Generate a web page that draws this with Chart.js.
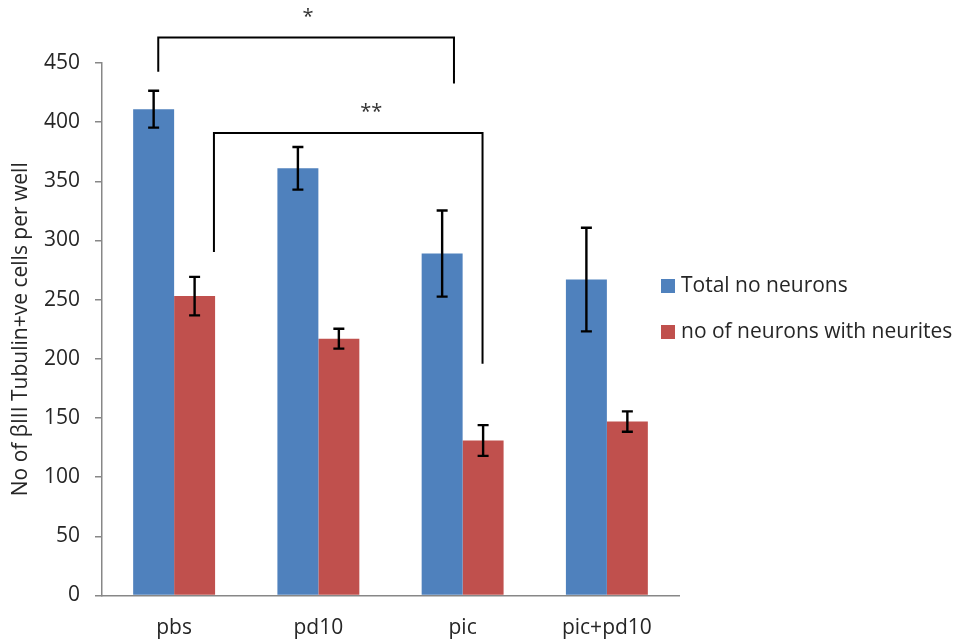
<!DOCTYPE html>
<html>
<head>
<meta charset="utf-8">
<script src="https://cdn.jsdelivr.net/npm/chart.js@4/dist/chart.umd.min.js"></script>
<style>
  html, body { margin: 0; padding: 0; background: #ffffff; }
  #wrap { width: 960px; height: 642px; }
</style>
</head>
<body>
<div id="wrap"><canvas id="c" width="960" height="642"></canvas></div>
<script>
// ---- Data ----
const categories = ['pbs', 'pd10', 'pic', 'pic+pd10'];
const seriesNames = ['Total no neurons', 'no of neurons with neurites'];
const totalNeurons = [411, 361, 289, 267];
const totalNeuronsErr = [15.6, 18, 36.4, 43.8];
const neuritesNeurons = [253, 217, 131, 147];
const neuritesErr = [16.3, 8.4, 13, 8.6];
const yMin = 0;
const yMax = 450;
const yStep = 50;
const yTitle = 'No of \u03B2III Tubulin+ve cells per well';
// significance brackets (category-index units and value units)
const bracketLabels = ['*', '**'];
const bracketX0 = [-0.11, 0.276];
const bracketX1 = [1.94, 2.138];
const bracketTop = [471.5, 390.9];
const bracketLeftEnd = [442.7, 290.3];
const bracketRightEnd = [432.6, 195.8];
const bracketLabelX = [0.928, 1.367];
const bracketLabelY = [491.8, 412];

const FONT = "'Open Sans', 'Liberation Sans', sans-serif";
const TEXT = '#262626';
const AXIS = '#878787';

const errorBars = {
  id: 'errorBars',
  afterDatasetsDraw(chart) {
    const ctx = chart.ctx;
    const ys = chart.scales.y;
    ctx.save();
    ctx.strokeStyle = '#000000';
    ctx.lineWidth = 2.4;
    chart.data.datasets.forEach((ds, i) => {
      const meta = chart.getDatasetMeta(i);
      meta.data.forEach((bar, j) => {
        const v = ds.data[j], e = ds.errors[j];
        const top = ys.getPixelForValue(v + e);
        const bot = ys.getPixelForValue(v - e);
        const x = bar.x;
        const cw = 5.5;
        ctx.beginPath();
        ctx.moveTo(x, top); ctx.lineTo(x, bot);
        ctx.moveTo(x - cw, top); ctx.lineTo(x + cw, top);
        ctx.moveTo(x - cw, bot); ctx.lineTo(x + cw, bot);
        ctx.stroke();
      });
    });
    ctx.restore();
  }
};

const brackets = {
  id: 'brackets',
  afterDraw(chart) {
    const ctx = chart.ctx;
    const xs = chart.scales.x, ys = chart.scales.y;
    ctx.save();
    ctx.strokeStyle = '#000000';
    ctx.lineWidth = 2;
    for (let k = 0; k < bracketLabels.length; k++) {
      const x0 = xs.getPixelForValue(bracketX0[k]);
      const x1 = xs.getPixelForValue(bracketX1[k]);
      const yt = ys.getPixelForValue(bracketTop[k]);
      const yl = ys.getPixelForValue(bracketLeftEnd[k]);
      const yr = ys.getPixelForValue(bracketRightEnd[k]);
      ctx.beginPath();
      ctx.moveTo(x0, yl); ctx.lineTo(x0, yt); ctx.lineTo(x1, yt); ctx.lineTo(x1, yr);
      ctx.stroke();
      ctx.fillStyle = '#333333';
      ctx.font = '20px ' + FONT;
      ctx.textAlign = 'center';
      ctx.textBaseline = 'middle';
      ctx.fillText(bracketLabels[k], xs.getPixelForValue(bracketLabelX[k]), ys.getPixelForValue(bracketLabelY[k]) + 4);
    }
    ctx.restore();
  }
};

const sideLegend = {
  id: 'sideLegend',
  afterDraw(chart) {
    const ctx = chart.ctx;
    const area = chart.chartArea;
    ctx.save();
    ctx.font = '21px ' + FONT;
    ctx.textBaseline = 'middle';
    ctx.textAlign = 'left';
    const bx = area.right - 18;
    const startY = 279;
    const gap = 46;
    chart.data.datasets.forEach((ds, i) => {
      const y = startY + i * gap;
      ctx.fillStyle = ds.backgroundColor;
      ctx.fillRect(bx, y, 14, 14);
      ctx.fillStyle = TEXT;
      ctx.fillText(ds.label, bx + 20, y + 7);
    });
    ctx.restore();
  }
};

new Chart(document.getElementById('c'), {
  type: 'bar',
  data: {
    labels: categories,
    datasets: [
      { label: seriesNames[0], data: totalNeurons, errors: totalNeuronsErr, backgroundColor: '#4F81BD', borderWidth: 0 },
      { label: seriesNames[1], data: neuritesNeurons, errors: neuritesErr, backgroundColor: '#C0504D', borderWidth: 0 }
    ]
  },
  options: {
    responsive: false,
    animation: false,
    devicePixelRatio: 1,
    layout: { padding: { left: 0, top: 63, right: 281, bottom: 0 } },
    datasets: { bar: { categoryPercentage: 0.568, barPercentage: 1.0 } },
    plugins: {
      legend: { display: false },
      tooltip: { enabled: false }
    },
    scales: {
      x: {
        grid: { display: false, drawTicks: false },
        border: { display: true, color: AXIS, width: 1.5 },
        ticks: { color: TEXT, font: { family: FONT, size: 21 }, padding: 20, maxRotation: 0 },
        afterFit(s) { s.height = 46.5; }
      },
      y: {
        min: yMin, max: yMax,
        grid: { drawOnChartArea: false, color: AXIS, tickLength: 7, lineWidth: 1.5 },
        border: { display: true, color: AXIS, width: 1.5 },
        ticks: { stepSize: yStep, color: TEXT, font: { family: FONT, size: 21 }, padding: 15 },
        title: { display: true, text: yTitle, color: TEXT, font: { family: FONT, size: 21 }, padding: { top: 8, bottom: 0 } },
        afterFit(s) { s.width = 102; }
      }
    }
  },
  plugins: [errorBars, brackets, sideLegend]
});
</script>
</body>
</html>
